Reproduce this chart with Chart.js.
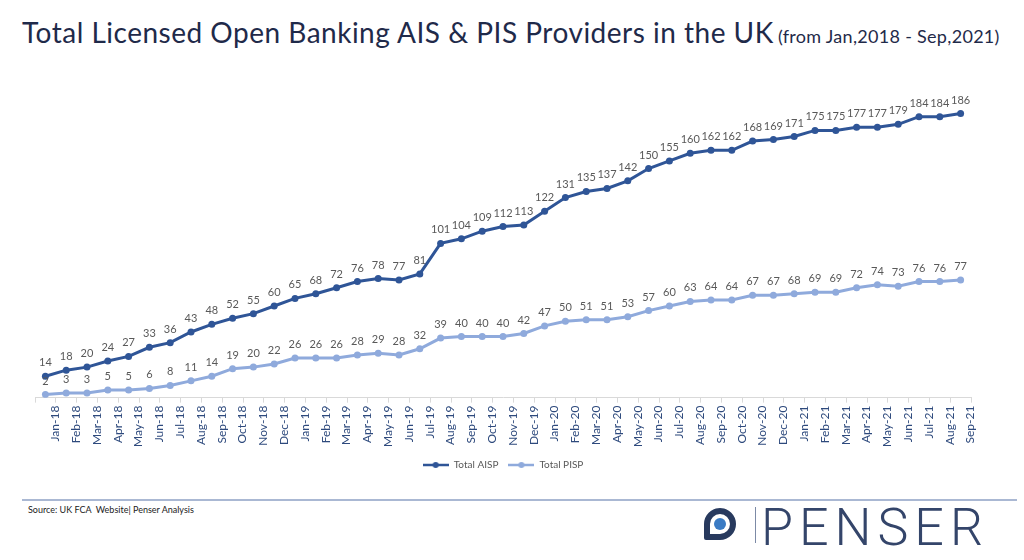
<!DOCTYPE html>
<html>
<head>
<meta charset="utf-8">
<script src="https://cdn.jsdelivr.net/npm/chart.js@4"></script>
<style>
  body { margin: 0; background: #fff; }
  #page { position: relative; width: 1024px; height: 560px; overflow: hidden; font-family: Lato, sans-serif; }
  #title { position: absolute; left: 22px; top: 16px; white-space: nowrap; color: #1f2a4a; line-height: 32px; }
  #title .main { font-size: 28px; letter-spacing: 0.5px; }
  #title .sub { font-size: 18px; letter-spacing: 0.3px; }
  #box { position: absolute; left: 0; top: 60px; width: 1024px; height: 420px; }
  #rule { position: absolute; left: 22px; top: 499px; width: 995px; height: 2px; background: #aab8d3; }
  #source { position: absolute; left: 28px; top: 504px; font-size: 9px; color: #222; }
  #logo { position: absolute; left: 704px; top: 508px; width: 32px; height: 32px; }
  #logo .ring { position: absolute; left: 0; top: 0; width: 20px; height: 20px; border: 6px solid #283a5e; border-radius: 50%; border-bottom-left-radius: 2px; }
  #logo .dot { position: absolute; left: 10px; top: 10px; width: 12px; height: 12px; border-radius: 50%; background: #3a7bc4; }
  #bar { position: absolute; left: 755px; top: 507px; width: 1px; height: 36px; background: #7c8aa6; }
  #brand { position: absolute; left: 761px; top: 500px; font-family: Roboto, sans-serif; font-weight: 300; font-size: 52px; letter-spacing: 6px; color: #34456a; line-height: 56px; }
</style>
</head>
<body>
<div id="page">
  <div id="title"><span class="main">Total Licensed Open Banking AIS &amp; PIS Providers in the UK</span> <span class="sub">(from Jan,2018 - Sep,2021)</span></div>
  <div id="box"><canvas id="grafica"></canvas></div>
  <div id="rule"></div>
  <div id="source">Source: UK FCA&nbsp; Website| Penser Analysis</div>
  <div id="logo"><div class="ring"></div><div class="dot"></div></div>
  <div id="bar"></div>
  <div id="brand">PENSER</div>
</div>
<script>
const meses = [
  "Jan-18","Feb-18","Mar-18","Apr-18","May-18","Jun-18","Jul-18","Aug-18","Sep-18","Oct-18","Nov-18","Dec-18",
  "Jan-19","Feb-19","Mar-19","Apr-19","May-19","Jun-19","Jul-19","Aug-19","Sep-19","Oct-19","Nov-19","Dec-19",
  "Jan-20","Feb-20","Mar-20","Apr-20","May-20","Jun-20","Jul-20","Aug-20","Sep-20","Oct-20","Nov-20","Dec-20",
  "Jan-21","Feb-21","Mar-21","Apr-21","May-21","Jun-21","Jul-21","Aug-21","Sep-21"
];

const totalAISP = [
  14, 18, 20, 24, 27, 33, 36, 43, 48, 52, 55, 60,
  65, 68, 72, 76, 78, 77, 81, 101, 104, 109, 112, 113,
  122, 131, 135, 137, 142, 150, 155, 160, 162, 162, 168, 169,
  171, 175, 175, 177, 177, 179, 184, 184, 186
];

const totalPISP = [
  2, 3, 3, 5, 5, 6, 8, 11, 14, 19, 20, 22,
  26, 26, 26, 28, 29, 28, 32, 39, 40, 40, 40, 42,
  47, 50, 51, 51, 53, 57, 60, 63, 64, 64, 67, 67,
  68, 69, 69, 72, 74, 73, 76, 76, 77
];

// marcador de leyenda: linea con punto
function marcador(color) {
    const c = document.createElement("canvas");
    c.width = 26;
    c.height = 8;
    const g = c.getContext("2d");
    g.strokeStyle = color;
    g.lineWidth = 2.5;
    g.beginPath();
    g.moveTo(0, 4);
    g.lineTo(26, 4);
    g.stroke();
    g.fillStyle = color;
    g.beginPath();
    g.arc(13, 4, 3, 0, Math.PI * 2);
    g.fill();
    return c;
}

// etiquetas con el valor sobre cada punto
const etiquetas = {
    id: "etiquetas",
    afterDatasetsDraw(chart) {
        const ctx = chart.ctx;
        ctx.save();
        ctx.font = "11px Lato";
        ctx.fillStyle = "#595959";
        ctx.textAlign = "center";
        ctx.textBaseline = "alphabetic";
        chart.data.datasets.forEach((ds, i) => {
            chart.getDatasetMeta(i).data.forEach((pt, j) => {
                ctx.fillText(ds.data[j], pt.x, pt.y - 10);
            });
        });
        ctx.restore();
    }
};

const colorAISP = "#2f5597";
const colorPISP = "#8faadc";

const data = {
    labels: meses,
    datasets: [{
        label: "Total AISP",
        data: totalAISP,
        borderColor: colorAISP,
        backgroundColor: colorAISP,
        borderWidth: 3,
        pointRadius: 3.5,
        pointBorderWidth: 0,
        tension: 0
    }, {
        label: "Total PISP",
        data: totalPISP,
        borderColor: colorPISP,
        backgroundColor: colorPISP,
        borderWidth: 3,
        pointRadius: 3.5,
        pointBorderWidth: 0,
        tension: 0
    }]
};

const config = {
    type: "line",
    data: data,
    plugins: [etiquetas],
    options: {
        responsive: true,
        maintainAspectRatio: false,
        animation: false,
        layout: { padding: { left: 35, right: 53, top: 20, bottom: 0 } },
        plugins: {
            tooltip: { enabled: false },
            legend: {
                position: "bottom",
                labels: {
                    usePointStyle: true,
                    pointStyleWidth: 26,
                    padding: 10,
                    color: "#595959",
                    font: { family: "Lato", size: 10 },
                    generateLabels: chart => chart.data.datasets.map((ds, i) => ({
                        text: ds.label,
                        pointStyle: marcador(ds.borderColor),
                        datasetIndex: i,
                        fontColor: "#595959",
                        lineWidth: 0,
                        strokeStyle: "transparent",
                        fillStyle: "transparent",
                        hidden: false
                    }))
                }
            }
        },
        scales: {
            x: {
                type: "category",
                offset: true,
                grid: { display: true, drawOnChartArea: false, drawTicks: true, tickLength: 5, color: "#d9d9d9", offset: true },
                border: { color: "#d9d9d9" },
                ticks: {
                    autoSkip: false,
                    minRotation: 90,
                    maxRotation: 90,
                    labelOffset: 10,
                    padding: 3,
                    color: "#2e4a7d",
                    font: { family: "Lato", size: 12 }
                }
            },
            y: {
                display: false,
                min: 0,
                max: 208
            }
        }
    }
};

const ChartPrincipal = new Chart(document.getElementById("grafica"), config);
</script>
</body>
</html>
